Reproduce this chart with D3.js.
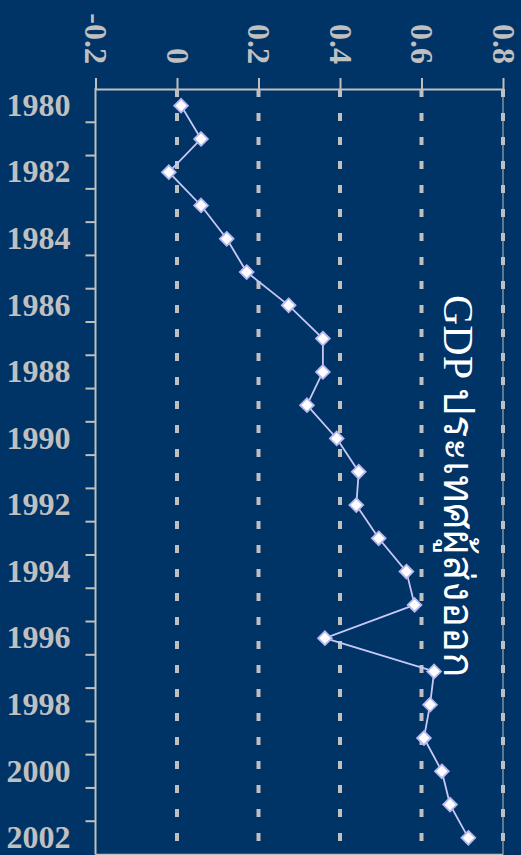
<!DOCTYPE html>
<html><head><meta charset="utf-8">
<script src="https://cdn.jsdelivr.net/npm/d3@7"></script>
<style>html,body{margin:0;padding:0;background:#003366;overflow:hidden}</style>
</head><body>
<svg id="c" width="521" height="855"></svg>
<script>
const years = ["1980","1981","1982","1983","1984","1985","1986","1987","1988","1989","1990","1991","1992","1993","1994","1995","1996","1997","1998","1999","2000","2001","2002"];
const gdpValues = [0.01,0.059,-0.02,0.059,0.122,0.171,0.274,0.358,0.358,0.319,0.392,0.446,0.440,0.495,0.563,0.583,0.363,0.631,0.621,0.606,0.650,0.670,0.715];
const xTicks = [-0.2,0,0.2,0.4,0.6,0.8];
const xTickLabels = ["-0.2","0","0.2","0.4","0.6","0.8"];
const yTickLabels = ["1980","1982","1984","1986","1988","1990","1992","1994","1996","1998","2000","2002"];
const title = "GDP ประเทศผู้ส่งออก";

const svg = d3.select("#c");
const W = 521, H = 855;
const L = 95.5, R = 503, T = 89, B = 854.5;
svg.append("rect").attr("width",W).attr("height",H).attr("fill","#003366");

const x = d3.scaleLinear().domain([-0.2,0.8]).range([L,R]);
const y = d3.scaleBand().domain(years).range([T,B]).padding(0);
const grey = "#c0c0c0";

// gridlines
svg.append("g").selectAll("line").data(xTicks.filter(d=>d>-0.2)).join("line")
  .attr("x1",d=>x(d)).attr("x2",d=>x(d)).attr("y1",T).attr("y2",B)
  .attr("stroke",grey).attr("stroke-width",4).attr("stroke-dasharray","8,16");
// right border
svg.append("line").attr("x1",R).attr("x2",R).attr("y1",T).attr("y2",B).attr("stroke",grey).attr("stroke-width",1);
svg.append("line").attr("x1",L).attr("x2",R).attr("y1",B).attr("y2",B).attr("stroke",grey).attr("stroke-width",1.5);

// top axis
const topAxis = svg.append("g").attr("transform",`translate(0,${T})`)
  .call(d3.axisTop(x).tickValues(xTicks).tickSize(11).tickSizeOuter(0).tickFormat((d,i)=>xTickLabels[i]));
topAxis.select(".domain").attr("stroke",grey).attr("stroke-width",2);
topAxis.selectAll(".tick line").attr("stroke",grey).attr("stroke-width",2);
topAxis.selectAll(".tick text")
  .attr("fill",grey).attr("font-family","'Liberation Serif', serif").attr("font-weight","bold").attr("font-size",32)
  .attr("text-anchor","end").attr("x",0).attr("y",0).attr("dy","0.33em")
  .attr("transform","translate(0,-25) rotate(90)");

// left axis
const leftAxis = svg.append("g").attr("transform",`translate(${L},0)`)
  .call(d3.axisLeft(y).tickValues(yTickLabels).tickSize(0).tickPadding(25));
leftAxis.select(".domain").remove();
leftAxis.selectAll(".tick text")
  .attr("fill",grey).attr("font-family","'Liberation Serif', serif").attr("font-weight","bold").attr("font-size",32);
svg.append("line").attr("x1",L).attr("x2",L).attr("y1",T-1).attr("y2",B).attr("stroke",grey).attr("stroke-width",2);
svg.append("g").selectAll("line").data(years.slice(0,-1)).join("line")
  .attr("x1",L-10).attr("x2",L).attr("y1",d=>y(d)+y.bandwidth()).attr("y2",d=>y(d)+y.bandwidth())
  .attr("stroke",grey).attr("stroke-width",2);

// line
const pts = years.map((yr,i)=>[x(gdpValues[i]), y(yr)+y.bandwidth()/2]);
svg.append("path").attr("d",d3.line()(pts)).attr("fill","none").attr("stroke","#c8c8f4").attr("stroke-width",1.8);
svg.append("g").selectAll("path").data(pts).join("path")
  .attr("d",d3.symbol(d3.symbolDiamond2,120)())
  .attr("transform",d=>`translate(${d[0]},${d[1]})`)
  .attr("fill","#ffffff").attr("stroke","#b8b8f0").attr("stroke-width",1.8);

// title
svg.append("text").attr("transform","translate(444,295) rotate(90)")
  .attr("text-anchor","start").attr("fill","#ffffff")
  .attr("font-family","'Liberation Serif', serif").attr("font-size",42)
  .text(title);
</script>
</body></html>
